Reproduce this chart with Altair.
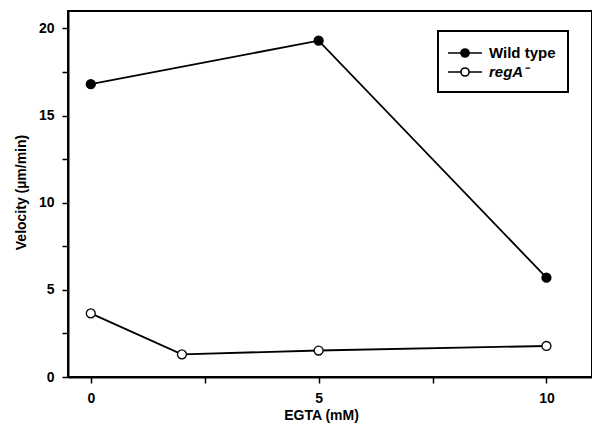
import altair as alt
import pandas as pd

series_names = ["Wild type", "regA⁻"]
wt_egta = [0, 5, 10]
wt_velocity = [16.8, 19.3, 5.7]
rega_egta = [0, 2, 5, 10]
rega_velocity = [3.65, 1.3, 1.52, 1.78]
x_ticks = [0, 2.5, 5, 7.5, 10]
y_ticks = [0, 2.5, 5, 7.5, 10, 12.5, 15, 17.5, 20]

rows = []
for e, v in zip(wt_egta, wt_velocity):
    rows.append({"egta": e, "velocity": v, "series": series_names[0]})
for e, v in zip(rega_egta, rega_velocity):
    rows.append({"egta": e, "velocity": v, "series": series_names[1]})
df = pd.DataFrame(rows)

FONT = "Liberation Sans"
# line through a circle; scale factor is sqrt(symbolSize)/2 = 9 px per unit
legend_symbol = ("M-1.89,0L-0.45,0M0.45,0L1.89,0"
                 "M0.45,0A0.45,0.45,0,1,1,-0.45,0A0.45,0.45,0,1,1,0.45,0Z")

x = alt.X(
    "egta:Q",
    scale=alt.Scale(domain=[-0.5, 11], nice=False, zero=False),
    axis=alt.Axis(
        values=x_ticks,
        labelExpr="datum.value % 5 == 0 ? datum.label : ''",
        title="EGTA (mM)",
        titleX=253,
        titleY=42,
        titleBaseline="alphabetic",
        labelPadding=8,
    ),
)
y = alt.Y(
    "velocity:Q",
    scale=alt.Scale(domain=[0, 21], nice=False),
    axis=alt.Axis(
        values=y_ticks,
        labelExpr="datum.value % 5 == 0 ? datum.label : ''",
        title="Velocity (µm/min)",
        titleX=-40,
        titleY=181,
        labelPadding=8,
    ),
)

lines = alt.Chart(df).mark_line(color="black", strokeWidth=1.8).encode(
    x=x, y=y, detail="series:N"
)

points = alt.Chart(df).mark_circle(
    size=80, stroke="black", strokeWidth=1.3, opacity=1
).encode(
    x=x,
    y=y,
    fill=alt.Fill(
        "series:N",
        scale=alt.Scale(domain=series_names, range=["black", "white"]),
        sort=series_names,
        legend=alt.Legend(
            title=None,
            orient="none",
            legendX=370,
            legendY=20,
            symbolType=legend_symbol,
            symbolSize=324,
            symbolOffset=5,
            symbolStrokeColor="black",
            symbolStrokeWidth=1.6,
            labelFont=FONT,
            labelFontSize=15,
            labelFontWeight="bold",
            labelFontStyle={"expr": "datum.label == 'Wild type' ? 'normal' : 'italic'"},
            labelColor="black",
            labelOffset=14,
            rowPadding=1,
            padding=12,
            strokeColor="black",
            fillColor="white",
        ),
    ),
)

chart = (
    alt.layer(lines, points)
    .properties(
        width=524,
        height=366,
        autosize=alt.AutoSizeParams(type="none"),
        padding={"left": 60, "top": 3, "right": 0, "bottom": 50},
    )
    .configure_view(stroke="black", strokeWidth=2)
    .configure_axis(
        grid=False,
        domainColor="black",
        domainWidth=2,
        tickColor="black",
        tickWidth=1.5,
        tickSize=6,
        labelFont=FONT,
        labelFontSize=14,
        labelFontWeight="bold",
        labelColor="black",
        titleFont=FONT,
        titleFontSize=14,
        titleFontWeight="bold",
        titleColor="black",
    )
    .configure_legend(strokeWidth=2)
)

chart.save("out.html", embed_options={"renderer": "svg", "actions": False})
